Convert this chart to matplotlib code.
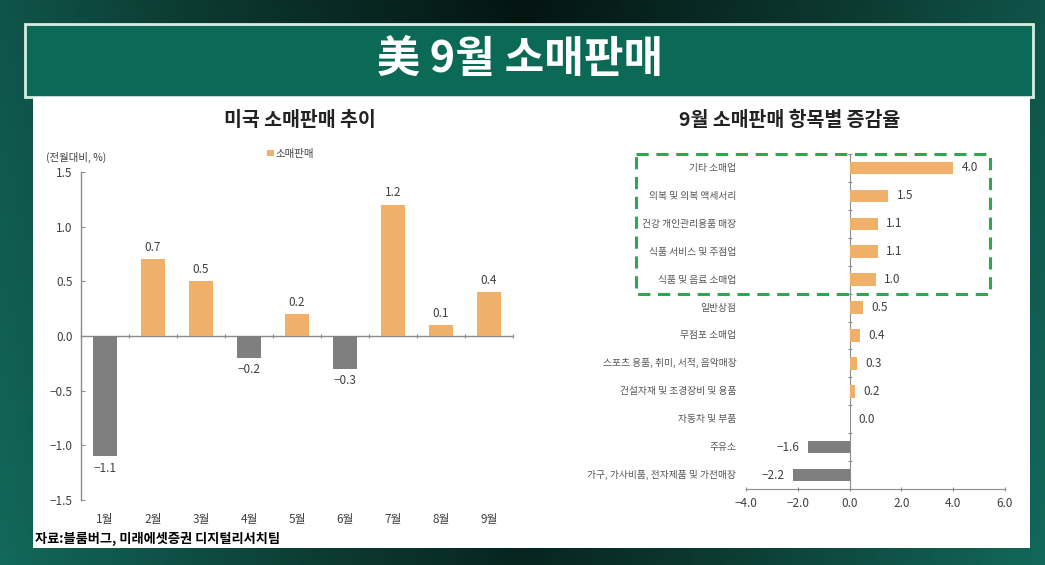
import numpy as np
import matplotlib
matplotlib.use("Agg")
import matplotlib.pyplot as plt
from matplotlib.patches import Rectangle
import matplotlib.transforms as mtransforms

plt.rcParams['font.family'] = ['Noto Sans CJK KR', 'DejaVu Sans']
plt.rcParams['axes.unicode_minus'] = False

# data
months = ['1월', '2월', '3월', '4월', '5월', '6월', '7월', '8월', '9월']
retail_mom = [-1.1, 0.7, 0.5, -0.2, 0.2, -0.3, 1.2, 0.1, 0.4]

items = ['기타 소매업', '의복 및 의복 액세서리', '건강 개인관리용품 매장', '식품 서비스 및 주점업',
         '식품 및 음료 소매업', '일반상점', '무점포 소매업', '스포츠 용품, 취미, 서적, 음악매장',
         '건설자재 및 조경장비 및 용품', '자동차 및 부품', '주유소', '가구, 가사비품, 전자제품 및 가전매장']
item_change = [4.0, 1.5, 1.1, 1.1, 1.0, 0.5, 0.4, 0.3, 0.2, 0.0, -1.6, -2.2]
n_highlight = 5

ORANGE = '#F0B06A'
GRAY = '#7F7F7F'
TXT = '#404040'

W, H = 1045, 565
fig = plt.figure(figsize=(W / 100, H / 100), dpi=100)

# background + banner + white panel (pixel coords)
bg = fig.add_axes([0, 0, 1, 1])
bg.set_xlim(0, W)
bg.set_ylim(H, 0)
bg.axis('off')
xx, yy = np.meshgrid(np.linspace(0, 1, 200), np.linspace(0, 1, 120))
grad = 0.55 * np.abs(xx - 0.5) * 2 + 0.15 * yy
bg.imshow(grad, extent=[0, W, H, 0], cmap=matplotlib.colors.LinearSegmentedColormap.from_list(
    'bg', ['#041512', '#0c3a32', '#12685a']), aspect='auto', zorder=0)
bg.add_patch(Rectangle((25, 24), 1008, 73, facecolor='#0b6a55', edgecolor='#d6eee2', lw=2, zorder=1))
bg.add_patch(Rectangle((33, 97), 997, 451, facecolor='white', edgecolor='none', zorder=1))
bg.text(520, 59, '美 9월 소매판매', color='white', fontsize=31, fontweight='bold',
        ha='center', va='center', zorder=2)
bg.text(300, 120, '미국 소매판매 추이', color='#222222', fontsize=14, fontweight='bold',
        ha='center', va='center', zorder=2)
bg.text(790, 120, '9월 소매판매 항목별 증감율', color='#222222', fontsize=14, fontweight='bold',
        ha='center', va='center', zorder=2)
bg.text(35, 539, '자료:블룸버그, 미래에셋증권 디지털리서치팀', color='black', fontsize=9.5,
        fontweight='bold', ha='left', va='center', zorder=2)

# left chart
ax1 = fig.add_axes([81 / W, 65 / H, 432 / W, 328 / H])
ax1.set_facecolor('none')
x = np.arange(len(months))
colors1 = [ORANGE if v >= 0 else GRAY for v in retail_mom]
ax1.bar(x, retail_mom, width=0.5, color=colors1, zorder=3)
ax1.bar([0], [0], color=ORANGE, label='소매판매')
ax1.set_xlim(-0.5, len(months) - 0.5)
ax1.set_ylim(-1.5, 1.5)
ax1.set_yticks([-1.5, -1.0, -0.5, 0.0, 0.5, 1.0, 1.5])
ax1.set_yticklabels(['−1.5', '−1.0', '−0.5', '0.0', '0.5', '1.0', '1.5'])
for s in ['top', 'right']:
    ax1.spines[s].set_visible(False)
ax1.spines['bottom'].set_position(('data', 0))
for s in ['left', 'bottom']:
    ax1.spines[s].set_color('#8c8c8c')
    ax1.spines[s].set_linewidth(1)
ax1.set_xticks(np.arange(len(months) + 1) - 0.5)
ax1.tick_params(axis='x', labelbottom=False, length=3, direction='inout', color='#8c8c8c')
ax1.tick_params(axis='y', labelsize=8.5, labelcolor=TXT, length=3, direction='in', color='#8c8c8c', pad=6)
for i, v in enumerate(retail_mom):
    ax1.annotate(f'{v:.1f}'.replace('-', '−'), (i, v), xytext=(0, 4 if v >= 0 else -4),
                 textcoords='offset points', ha='center', va='bottom' if v >= 0 else 'top',
                 fontsize=8.5, color=TXT)
    ax1.annotate(months[i], (i, -1.5), xytext=(0, -9), textcoords='offset points',
                 ha='center', va='top', fontsize=8.5, color=TXT, annotation_clip=False)
ax1.text(-0.08, 1.045, '(전월대비, %)', transform=ax1.transAxes, fontsize=7.5, color=TXT,
         ha='left', va='center')
ax1.legend(loc='upper left', bbox_to_anchor=(0.41, 1.1), frameon=False, fontsize=7.5,
           handlelength=0.6, handleheight=0.6, handletextpad=0.2, labelcolor=TXT)

# right chart
ax2 = fig.add_axes([746 / W, 76 / H, 259 / W, 335 / H])
ax2.set_facecolor('none')
y = np.arange(len(items))
colors2 = [ORANGE if v >= 0 else GRAY for v in item_change]
ax2.barh(y, item_change, height=0.45, color=colors2, zorder=3)
ax2.set_xlim(-4, 6)
ax2.set_ylim(len(items) - 0.5, -0.5)
for s in ['top', 'right']:
    ax2.spines[s].set_visible(False)
ax2.spines['left'].set_position(('data', 0))
for s in ['left', 'bottom']:
    ax2.spines[s].set_color('#8c8c8c')
ax2.set_xticks([-4, -2, 0, 2, 4, 6])
ax2.set_xticklabels(['−4.0', '−2.0', '0.0', '2.0', '4.0', '6.0'])
ax2.set_yticks(np.arange(len(items) + 1) - 0.5)
ax2.tick_params(axis='y', labelleft=False, length=3, direction='inout', color='#8c8c8c')
ax2.tick_params(axis='x', labelsize=8.5, labelcolor=TXT, length=3, direction='inout', color='#8c8c8c', pad=4)
for i, v in enumerate(item_change):
    ax2.annotate(f'{v:.1f}'.replace('-', '−'), (v, i), xytext=(6 if v >= 0 else -6, 0),
                 textcoords='offset points', ha='left' if v >= 0 else 'right', va='center',
                 fontsize=8.5, color=TXT)
    ax2.annotate(items[i], (-4, i), xytext=(-7, 0), textcoords='offset points',
                 ha='right', va='center', fontsize=7, color='#555555', annotation_clip=False)

trans = mtransforms.blended_transform_factory(ax2.transAxes, ax2.transData)
ax2.add_patch(Rectangle((-0.425, -0.5), 1.367, n_highlight, transform=trans, fill=False,
                        edgecolor='#2EA84E', lw=2.2, linestyle=(0, (4, 2.5)), clip_on=False, zorder=4))

fig.savefig('out.png', dpi=100)
